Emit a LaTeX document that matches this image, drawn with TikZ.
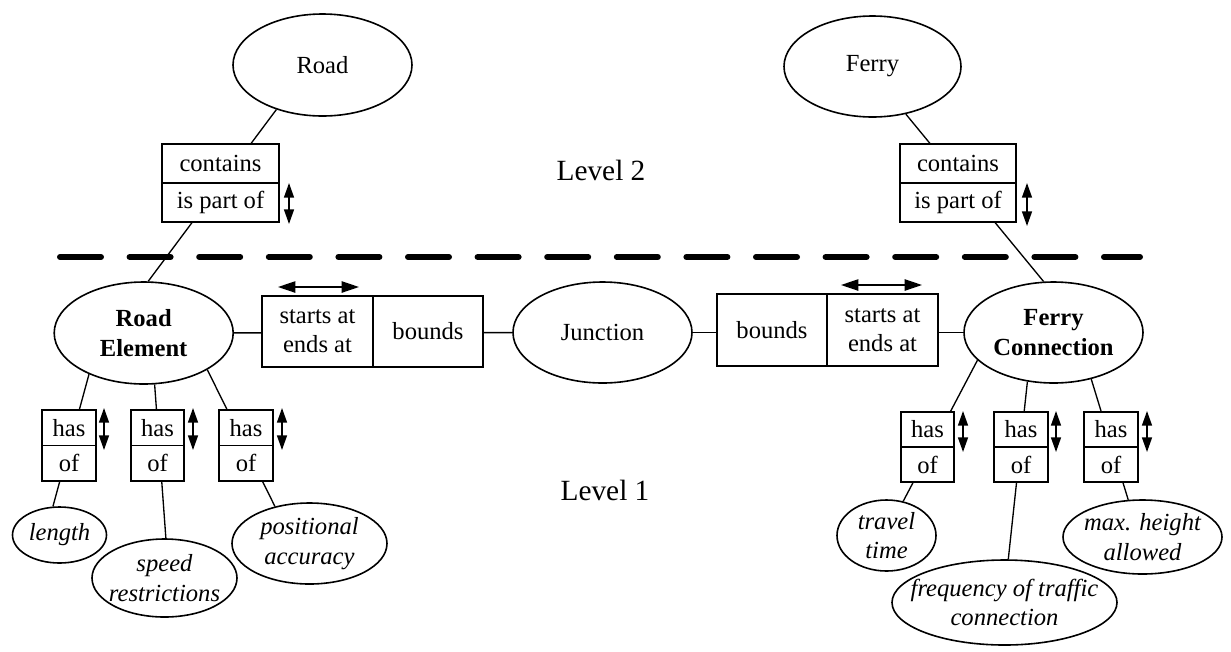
\documentclass[tikz,border=0pt]{standalone}
\usepackage{fontspec}
\setmainfont{Liberation Serif}
\usetikzlibrary{shapes.geometric,arrows.meta}
\tikzset{
  base/.style={font=\fontsize{18.45}{22}\selectfont},
  ell/.style 2 args={draw, ellipse, line width=1.2pt, fill=white, inner sep=0pt, minimum width=#1*1.5pt, minimum height=#2*1.5pt},
  lbl/.style={font=\fontsize{18.45}{22}\selectfont, align=center, inner sep=0pt},
  blbl/.style={lbl, font=\fontsize{18.45}{22}\selectfont\bfseries},
  ilbl/.style={lbl, font=\fontsize{18.45}{22}\selectfont\itshape},
  cell/.style 2 args={base, draw, rectangle, line width=1.3pt, fill=white, inner sep=0pt, align=center, minimum width=#1*0.75pt, minimum height=#2*0.75pt},
  conn/.style={line width=1pt},
  vtip/.style={line width=1.1pt, {Triangle[length=11pt,width=7.5pt]}-{Triangle[length=11pt,width=7.5pt]}},
  htip/.style={line width=1.1pt, {Triangle[length=13pt,width=8.5pt]}-{Triangle[length=13pt,width=8.5pt]}},
  lvl/.style={font=\fontsize{22}{26}\selectfont, inner sep=0pt},
  sep/.style={line width=4.5pt, line cap=round, dash pattern=on 30.75pt off 21.45pt},
}
\begin{document}
\begin{tikzpicture}[x=0.75pt,y=-0.75pt]
\useasboundingbox (0,0) rectangle (1231,651);

% level separator
\draw[sep] (60,257) -- (1140,257);
\node[lvl] (lv2) at (601,170) {Level 2};
\node[lvl] (lv1) at (605,490) {Level 1};

% ellipses
\node[ell={89.5}{51}] (road) at (322.5,65) {};
\node[lbl] (road-t) at (road) {Road};
\node[ell={88.5}{50.5}] (ferry) at (872.5,66.5) {};
\node[lbl] (ferry-t) at (ferry) {Ferry};
\node[ell={89.5}{51}] (re) at (143.7,333) {};
\node[blbl] (re-t) at (re) {Road\\Element};
\node[ell={89.5}{50.5}] (junc) at (602.5,332.5) {};
\node[lbl] (junc-t) at (junc) {Junction};
\node[ell={89.5}{50.5}] (fc) at (1053.5,332.5) {};
\node[blbl] (fc-t) at (fc) {Ferry\\Connection};

\node[ell={47}{28}] (len) at (59.5,535) {};
\node[ilbl] (len-t) at (len) {length};
\node[ell={72.5}{39}] (spd) at (164.5,578) {};
\node[ilbl] (spd-t) at (spd) {speed\\restrictions};
\node[ell={77.5}{40.5}] (pos) at (309.5,543.5) {};
\node[ilbl] (pos-t) at (pos) {positional\\accuracy};
\node[ell={49.5}{35.5}] (trv) at (886.5,535.5) {};
\node[ilbl] (trv-t) at (trv) {travel\\time};
\node[ell={112.5}{42.5}] (frq) at (1004.5,602.5) {};
\node[ilbl] (frq-t) at (frq) {frequency of traffic\\connection};
\node[ell={79.5}{37}] (mxh) at (1142.5,537) {};
\node[ilbl] (mxh-t) at (mxh) {max. height\\allowed};

% connectors (pass behind the relation boxes)
\draw[conn] (road.-136) -- (re.85);
\draw[conn] (ferry.-55) -- (fc.101);
\draw[conn] (re) -- (junc);
\draw[conn] (junc) -- (fc);
\draw[conn] (re.-143) -- (len.103);
\draw[conn] (re.-78) -- (spd.88);
\draw[conn] (re.-30) -- (pos.133);
\draw[conn] (fc.-160) -- (trv.64);
\draw[conn] (fc.-118) -- (frq.85);
\draw[conn] (fc.-51) -- (mxh.111);

% relation boxes
\node[cell={117}{39}] (rc1) at (220.5,163.5) {contains};
\node[cell={117}{39}] (rc2) at (220.5,202.5) {is part of};
\node[cell={116}{39}] (fc1) at (958,163.5) {contains};
\node[cell={116}{39}] (fc2) at (958,202.5) {is part of};

\node[cell={111}{71}] (ls) at (317.5,331.5) {starts at\\ends at};
\node[cell={110}{71}] (lb) at (428,331.5) {bounds};
\node[cell={110}{72}] (rb) at (772,330) {bounds};
\node[cell={111}{72}] (rs) at (882.5,330) {starts at\\ends at};

\node[cell={54}{35.5}] (h1a) at (69,427.75) {has};
\node[cell={54}{35.5}] (h1b) at (69,463.25) {of};
\node[cell={53}{35.5}] (h2a) at (157.5,427.75) {has};
\node[cell={53}{35.5}] (h2b) at (157.5,463.25) {of};
\node[cell={54}{35.5}] (h3a) at (246,427.75) {has};
\node[cell={54}{35.5}] (h3b) at (246,463.25) {of};

\node[cell={53}{35}] (h4a) at (927.5,429.5) {has};
\node[cell={53}{35}] (h4b) at (927.5,464.5) {of};
\node[cell={54}{35}] (h5a) at (1021,429.5) {has};
\node[cell={54}{35}] (h5b) at (1021,464.5) {of};
\node[cell={54}{35}] (h6a) at (1111,429.5) {has};
\node[cell={54}{35}] (h6b) at (1111,464.5) {of};

% reading-direction arrows
\draw[vtip] (289,183) -- (289,224);
\draw[vtip] (1027,183) -- (1027,226);
\draw[vtip] (104,408) -- (104,450);
\draw[vtip] (193,408) -- (193,450);
\draw[vtip] (282,408) -- (282,450);
\draw[vtip] (963,411) -- (963,452);
\draw[vtip] (1056,411) -- (1056,452);
\draw[vtip] (1147,411) -- (1147,452);
\draw[htip] (278,287) -- (359,287);
\draw[htip] (841,285) -- (922,285);
\end{tikzpicture}
\end{document}
